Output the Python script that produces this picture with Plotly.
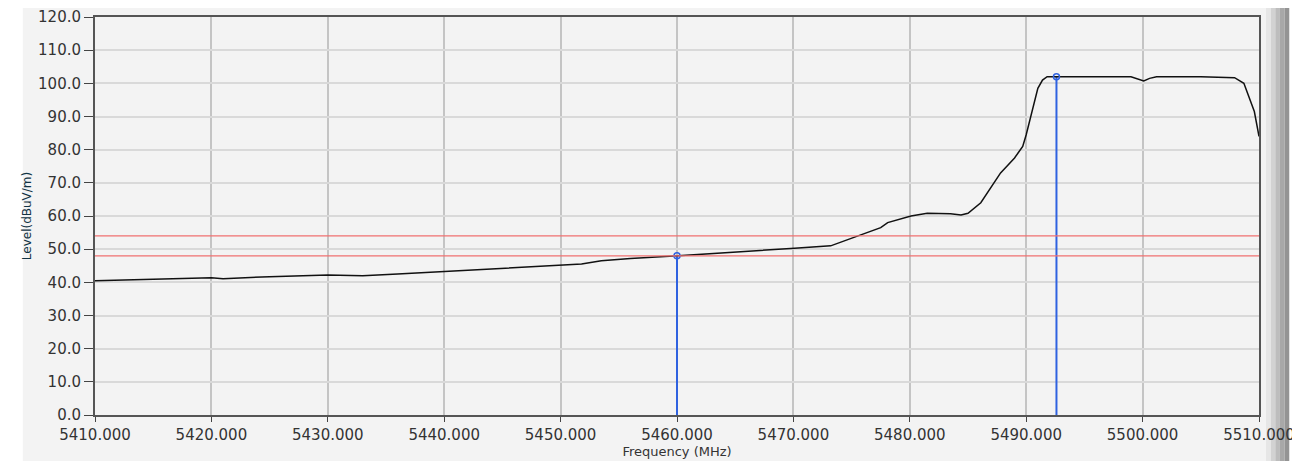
import plotly.graph_objects as go

freq = [5410.0, 5415.0, 5420.0, 5421.0, 5425.0, 5430.0, 5433.0, 5436.0, 5440.0, 5444.9,
        5449.5, 5451.8, 5453.5, 5456.0, 5460.1, 5464.9, 5470.1, 5473.2, 5475.2, 5477.5,
        5478.1, 5480.1, 5481.5, 5483.5, 5484.4, 5485.0, 5486.1, 5487.3, 5487.8, 5489.0,
        5489.7, 5490.0, 5490.4, 5491.0, 5491.4, 5491.8, 5495.0, 5499.0, 5500.1, 5500.6,
        5501.2, 5505.0, 5507.9, 5508.7, 5509.6, 5510.0]
level = [40.5, 40.9, 41.4, 41.1, 41.7, 42.2, 42.0, 42.5, 43.3, 44.1,
         45.0, 45.5, 46.5, 47.2, 48.0, 49.0, 50.3, 51.0, 53.5, 56.5,
         58.0, 60.0, 60.8, 60.7, 60.3, 60.8, 64.0, 70.5, 73.0, 77.5,
         81.0, 84.5, 90.5, 98.5, 101.0, 102.0, 102.0, 102.0, 100.7, 101.5,
         102.0, 102.0, 101.7, 100.0, 91.5, 84.0]

limit_levels = [54.0, 48.0]
marker_freq = [5460.0, 5492.6]
marker_level = [48.0, 102.0]

y_ticks = [i * 10 for i in range(13)]
x_ticks = [5410 + i * 10 for i in range(11)]

fig = go.Figure()

# markers: vertical blue lines from 0 up to the marker level
for f, l in zip(marker_freq, marker_level):
    fig.add_trace(go.Scatter(x=[f, f], y=[0, l], mode="lines",
                             line=dict(color="#2f62e0", width=2),
                             showlegend=False, hoverinfo="skip"))

fig.add_trace(go.Scatter(x=freq, y=level, mode="lines",
                         line=dict(color="#111111", width=1.5),
                         showlegend=False))

fig.add_trace(go.Scatter(x=marker_freq, y=marker_level, mode="markers",
                         marker=dict(symbol="circle-open", size=6,
                                     color="#2f62e0", line=dict(width=1.5)),
                         showlegend=False))

for lv in limit_levels:
    fig.add_hline(y=lv, line=dict(color="#f07070", width=1.2))

# panel background + shaded right edge
fig.add_shape(type="rect", xref="paper", yref="paper", x0=-0.062, x1=1.006, y0=-0.135, y1=1.03,
              fillcolor="#f3f3f3", line=dict(width=0), layer="below")
for i, c in enumerate(["#e6e6e6", "#d2d2d2", "#bdbdbd", "#a8a8a8", "#949494"]):
    fig.add_shape(type="rect", xref="paper", yref="paper",
                  x0=1.006 + i * 0.004, x1=1.010 + i * 0.004, y0=-0.135, y1=1.03,
                  fillcolor=c, line=dict(width=0), layer="below")

fig.update_layout(
    width=1300, height=461,
    margin=dict(l=87, r=49, t=9, b=54),
    paper_bgcolor="#ffffff",
    plot_bgcolor="#f9f9f9",
    font=dict(family="DejaVu Sans", size=15, color="#333333"),
)

fig.update_xaxes(
    range=[5410, 5510], tickvals=x_ticks, ticktext=["%.3f" % v for v in x_ticks],
    showgrid=True, gridcolor="#c4c4c4", gridwidth=2,
    showline=True, linecolor="#555555", linewidth=2, mirror=True,
    ticks="outside", ticklen=5, tickcolor="#444444",
    zeroline=False, automargin=False,
    title=dict(text="Frequency (MHz)", font=dict(size=13, color="#333333"), standoff=2),
)
fig.update_yaxes(
    range=[0, 120], tickvals=y_ticks, ticktext=["%.1f" % v for v in y_ticks],
    tickfont=dict(size=15), ticklabeloverflow="allow",
    showgrid=True, gridcolor="#d9d9d9", gridwidth=1.5,
    showline=True, linecolor="#555555", linewidth=2, mirror=True,
    ticks="outside", ticklen=9, tickcolor="#444444",
    zeroline=False, automargin=False,
    title=dict(text="Level(dBuV/m)", font=dict(size=12, color="#113344"), standoff=4),
)

fig.write_html("out.html")
